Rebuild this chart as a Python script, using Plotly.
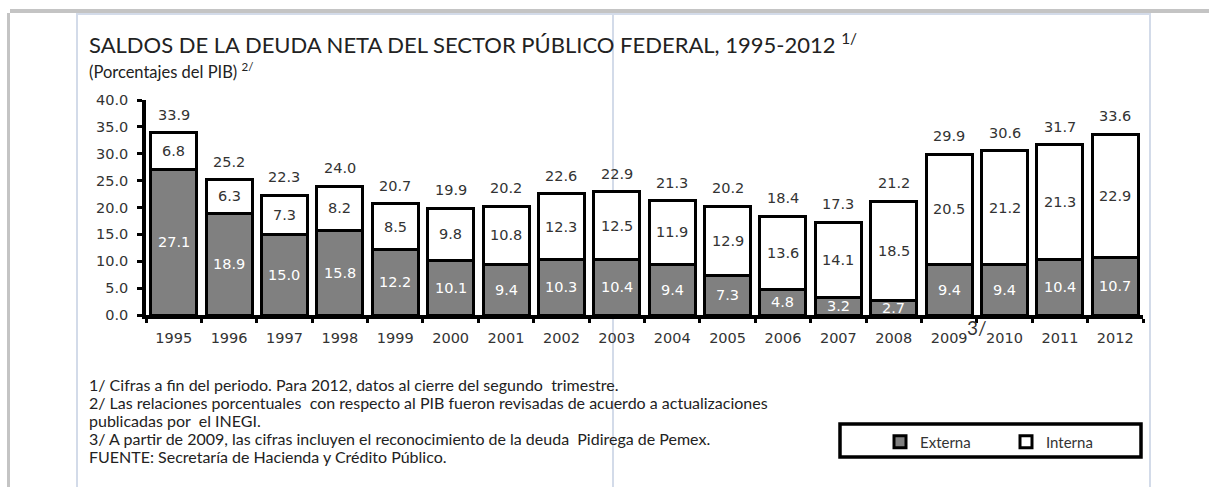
import plotly.graph_objects as go

years = ["1995", "1996", "1997", "1998", "1999", "2000", "2001", "2002", "2003",
         "2004", "2005", "2006", "2007", "2008", "2009", "2010", "2011", "2012"]
externa = [27.1, 18.9, 15.0, 15.8, 12.2, 10.1, 9.4, 10.3, 10.4, 9.4, 7.3, 4.8, 3.2, 2.7, 9.4, 9.4, 10.4, 10.7]
interna = [6.8, 6.3, 7.3, 8.2, 8.5, 9.8, 10.8, 12.3, 12.5, 11.9, 12.9, 13.6, 14.1, 18.5, 20.5, 21.2, 21.3, 22.9]
totales = [33.9, 25.2, 22.3, 24.0, 20.7, 19.9, 20.2, 22.6, 22.9, 21.3, 20.2, 18.4, 17.3, 21.2, 29.9, 30.6, 31.7, 33.6]

title_text = "SALDOS DE LA DEUDA NETA DEL SECTOR PÚBLICO FEDERAL, 1995-2012"
subtitle_text = "(Porcentajes del PIB)"
notes = [
    "1/ Cifras a fin del periodo. Para 2012, datos al cierre del segundo  trimestre.",
    "2/ Las relaciones porcentuales  con respecto al PIB fueron revisadas de acuerdo a actualizaciones",
    "publicadas por  el INEGI.",
    "3/ A partir de 2009, las cifras incluyen el reconocimiento de la deuda  Pidirega de Pemex.",
    "FUENTE: Secretaría de Hacienda y Crédito Público.",
]

W, H = 1209, 487
L, R, T, B = 146, 1143, 100, 315


def px(x):
    return (x - L) / (R - L)


def py(y):
    return (B - y) / (B - T)


NUM_FONT = "DejaVu Sans"
TXT_FONT = "Lato"
DARK = "#333333"
NUM_SIZE = 14.5

fig = go.Figure()
fig.add_trace(go.Bar(
    x=years, y=externa, name="Externa",
    marker=dict(color="#808080", line=dict(color="black", width=3)),
))
fig.add_trace(go.Bar(
    x=years, y=interna, name="Interna",
    marker=dict(color="white", line=dict(color="black", width=3)),
))

ann = []
for k, (e, i, t) in enumerate(zip(externa, interna, totales)):
    ann.append(dict(x=k, y=e / 2, text=f"{e:.1f}", showarrow=False, xref="x", yref="y",
                    xanchor="center", yanchor="middle",
                    font=dict(family=NUM_FONT, size=NUM_SIZE, color="white")))
    ann.append(dict(x=k, y=e + i / 2, text=f"{i:.1f}", showarrow=False, xref="x", yref="y",
                    xanchor="center", yanchor="middle",
                    font=dict(family=NUM_FONT, size=NUM_SIZE, color=DARK)))
    ann.append(dict(x=k, y=t, yshift=18, text=f"{t:.1f}", showarrow=False, xref="x", yref="y",
                    xanchor="center", yanchor="middle",
                    font=dict(family=NUM_FONT, size=NUM_SIZE, color=DARK)))

ann.append(dict(x=px(977), y=py(327), text="3/", showarrow=False, xref="paper", yref="paper",
                xanchor="center", yanchor="middle",
                font=dict(family=TXT_FONT, size=19, color=DARK)))

ann.append(dict(x=px(87), y=py(43), xanchor="left", yanchor="middle", showarrow=False,
                xref="paper", yref="paper",
                text=title_text + " <sup>1/</sup>",
                font=dict(family=TXT_FONT, size=22, color="#222222")))
ann.append(dict(x=px(87), y=py(71), xanchor="left", yanchor="middle", showarrow=False,
                xref="paper", yref="paper",
                text=subtitle_text + " <sup>2/</sup>",
                font=dict(family=TXT_FONT, size=16.5, color="#222222")))
for k, line in enumerate(notes):
    ann.append(dict(x=px(87), y=py(384 + 18 * k), xanchor="left", yanchor="middle", showarrow=False,
                    xref="paper", yref="paper", text=line,
                    font=dict(family=TXT_FONT, size=16, color="#222222")))

shapes = [
    dict(type="rect", xref="paper", yref="paper", x0=px(10), x1=px(1209), y0=py(9), y1=py(13),
         fillcolor="#c4c4c4", line=dict(width=0), layer="below"),
    dict(type="rect", xref="paper", yref="paper", x0=px(7), x1=px(10), y0=py(13), y1=py(487),
         fillcolor="#c4c4c4", line=dict(width=0), layer="below"),
    dict(type="rect", xref="paper", yref="paper", x0=px(77), x1=px(1151), y0=py(13), y1=py(15),
         fillcolor="#d3dbe9", line=dict(width=0), layer="below"),
    dict(type="rect", xref="paper", yref="paper", x0=px(76), x1=px(78), y0=py(13), y1=py(487),
         fillcolor="#d3dbe9", line=dict(width=0), layer="below"),
    dict(type="rect", xref="paper", yref="paper", x0=px(612), x1=px(614), y0=py(13), y1=py(487),
         fillcolor="#d3dbe9", line=dict(width=0), layer="below"),
    dict(type="rect", xref="paper", yref="paper", x0=px(1149), x1=px(1151), y0=py(13), y1=py(487),
         fillcolor="#d3dbe9", line=dict(width=0), layer="below"),
    dict(type="rect", xref="paper", yref="paper", x0=px(840), x1=px(1141), y0=py(424), y1=py(457),
         fillcolor="rgba(0,0,0,0)", line=dict(color="black", width=3.5), layer="above"),
]

fig.update_layout(
    width=W, height=H,
    margin=dict(l=L, r=W - R, t=T, b=H - B, pad=0),
    paper_bgcolor="white", plot_bgcolor="rgba(0,0,0,0)",
    barmode="stack", bargap=0.17,
    showlegend=True,
    legend=dict(orientation="h", x=px(880), y=py(442), xanchor="left", yanchor="middle",
                bgcolor="rgba(0,0,0,0)", borderwidth=0, entrywidth=81, itemwidth=30,
                font=dict(family=TXT_FONT, size=15, color=DARK), traceorder="normal"),
    annotations=ann,
    shapes=shapes,
    xaxis=dict(type="category", showline=True, linecolor="black", linewidth=3.5,
               ticks="outside", tickson="boundaries", ticklen=4, tickwidth=3, tickcolor="black",
               showgrid=False, zeroline=False, ticklabelstandoff=7,
               tickfont=dict(family=NUM_FONT, size=NUM_SIZE, color=DARK)),
    yaxis=dict(range=[0, 40], dtick=5, tickformat=".1f", showline=True, linecolor="black",
               linewidth=3.5, ticks="outside", ticklen=5, tickwidth=3, tickcolor="black",
               showgrid=False, zeroline=False, ticklabelstandoff=6,
               tickfont=dict(family=NUM_FONT, size=NUM_SIZE, color=DARK)),
)

fig.write_html("out.html", config={"displayModeBar": False},
               post_script="document.body.style.margin='0';")
